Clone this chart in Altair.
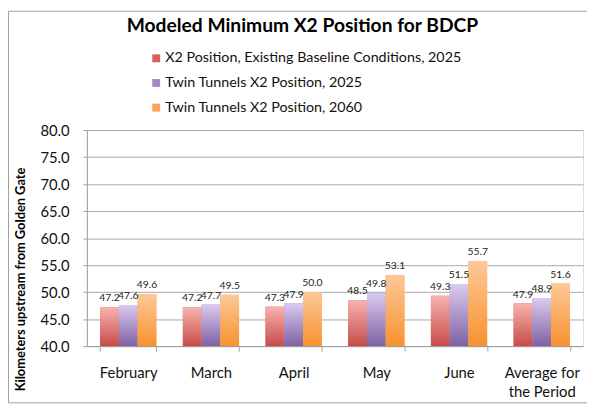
import altair as alt
import pandas as pd

months = ["February", "March", "April", "May", "June", "Average for the Period"]
series = [
    "X2 Position, Existing Baseline Conditions, 2025",
    "Twin Tunnels X2 Position, 2025",
    "Twin Tunnels X2 Position, 2060",
]
baseline_2025 = [47.2, 47.2, 47.3, 48.5, 49.3, 47.9]
twin_2025 = [47.6, 47.7, 47.9, 49.8, 51.5, 48.9]
twin_2060 = [49.6, 49.5, 50.0, 53.1, 55.7, 51.6]
y_ticks = [40, 45, 50, 55, 60, 65, 70, 75, 80]

solid = ["#D6605C", "#A28BC4", "#F9A25A"]
grad_top = ["#F8B3B0", "#DACBEF", "#FDC898"]
grad_bottom = ["#C64C48", "#7F61A3", "#F7922E"]

rows = []
for s, vals in zip(series, [baseline_2025, twin_2025, twin_2060]):
    for m, v in zip(months, vals):
        rows.append({"month": m, "series": s, "value": v})
df = pd.DataFrame(rows)

FONT = "Lato"
W, H = 503, 219

x_enc = alt.X(
    "month:N",
    sort=months,
    scale=alt.Scale(domain=months, paddingInner=0.32, paddingOuter=0.16),
    axis=alt.Axis(
        title=None,
        labelAngle=0,
        tickBand="extent",
        tickSize=5,
        tickColor="#A0A0A0",
        domainColor="#A0A0A0",
        labelFont=FONT,
        labelFontSize=15,
        labelColor="#111111",
        labelPadding=15,
        labelLineHeight=19,
        labelExpr="datum.label == 'Average for the Period' ? ['Average for', 'the Period'] : datum.label",
        grid=False,
    ),
)
xo_enc = alt.XOffset(
    "series:N", sort=series, scale=alt.Scale(domain=series, paddingInner=0, paddingOuter=0)
)
y_enc = alt.Y(
    "value:Q",
    scale=alt.Scale(domain=[40, 80], nice=False, zero=False),
    axis=alt.Axis(
        values=y_ticks,
        format=".1f",
        grid=True,
        gridColor="#A8A8A8",
        domainColor="#A0A0A0",
        tickColor="#A0A0A0",
        tickSize=4,
        labelFont=FONT,
        labelFontSize=15,
        labelColor="#111111",
        labelPadding=14,
        title="Kilometers upstream from Golden Gate",
        titleFont=FONT,
        titleFontSize=13,
        titleFontWeight="bold",
        titleColor="#000000",
        titleAngle=-90,
        titleX=-67,
        titleY=151,
        titleAlign="center",
        titleBaseline="middle",
    ),
)

base = alt.Chart(df).mark_bar().encode(
    x=x_enc,
    xOffset=xo_enc,
    y=y_enc,
    y2=alt.datum(40),
    color=alt.Color(
        "series:N",
        sort=series,
        scale=alt.Scale(domain=series, range=solid),
        legend=alt.Legend(
            title=None,
            orient="none",
            legendX=63,
            legendY=-80,
            symbolType="square",
            symbolSize=64,
            symbolStrokeWidth=0,
            labelFont=FONT,
            labelFontSize=14.5,
            labelColor="#111111",
            labelOffset=2,
            rowPadding=10,
            labelLimit=400,
        ),
    ),
)

grad_layers = []
for s, top, bot in zip(series, grad_top, grad_bottom):
    grad_layers.append(
        alt.Chart(df)
        .transform_filter(alt.datum.series == s)
        .mark_bar(
            color=alt.Gradient(
                gradient="linear",
                stops=[
                    alt.GradientStop(offset=0, color=top),
                    alt.GradientStop(offset=1, color=bot),
                ],
                x1=0, x2=0, y1=0, y2=1,
            )
        )
        .encode(x=x_enc, xOffset=xo_enc, y=y_enc, y2=alt.datum(40))
    )

labels = alt.Chart(df).mark_text(
    font=FONT, fontSize=10.5, color="#222222", dy=-9, baseline="middle"
).encode(
    x=x_enc,
    xOffset=xo_enc,
    y=y_enc,
    text=alt.Text("value:Q", format=".1f"),
)

border = alt.Chart(alt.Data(values=[{"a": 1}])).mark_rect(
    filled=False, stroke="#A0A0A0", strokeWidth=1
).encode(
    x=alt.value(-79.5), x2=alt.value(620), y=alt.value(-120.5), y2=alt.value(276.5)
)

chart = alt.layer(border, base, *grad_layers, labels).properties(
    width=W,
    height=H,
    title=alt.TitleParams(
        "Modeled Minimum X2 Position for BDCP",
        font=FONT,
        fontSize=19.5,
        fontWeight="bold",
        color="#000000",
        anchor="middle",
        baseline="middle",
        dx=-33,
        offset=-35.5,
    ),
    autosize=alt.AutoSizeParams(type="none"),
    padding={"left": 80, "top": 121, "right": 4, "bottom": 60},
).configure_view(stroke=None).configure(background="white")

chart.save("out.html", embed_options={"renderer": "svg", "actions": False})
